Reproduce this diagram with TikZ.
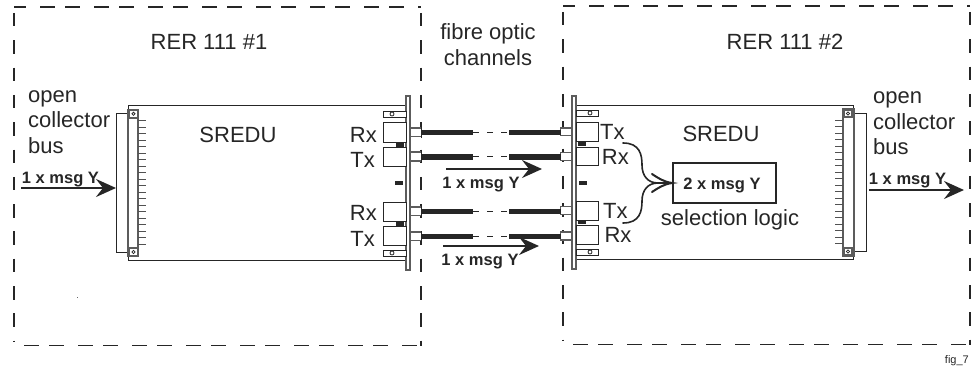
\documentclass[tikz,border=0pt]{standalone}
\usepackage{fontspec}
\setmainfont{Liberation Sans}
\usetikzlibrary{arrows.meta}
\definecolor{ink}{HTML}{262626}
\newcommand{\BoxN}[6][thinbox]{% style, name, x1,y1,x2,y2
  \pgfmathsetmacro{\cxv}{(#3+#5)/2}\pgfmathsetmacro{\cyv}{(#4+#6)/2}
  \pgfmathsetmacro{\wv}{abs(#5-#3)}\pgfmathsetmacro{\hv}{abs(#6-#4)}
  \node[#1,minimum width=\wv pt,minimum height=\hv pt] (#2) at (\cxv,\cyv) {};}
\tikzset{
  x=1pt,y=-1pt,
  thinbox/.style={draw=ink,line width=1pt,fill=white,inner sep=0pt,outer sep=0pt},
  platebox/.style={draw=ink!75,line width=1.2pt,fill=white,inner sep=0pt,outer sep=0pt},
  blk/.style={fill=ink,inner sep=0pt,outer sep=0pt},
  lbl/.style={text=ink,font=\fontsize{22}{24}\selectfont,inner sep=0pt,anchor=base},
  lblbold/.style={text=ink,font=\fontsize{16.5}{18}\selectfont\bfseries,inner sep=0pt,anchor=base},
  hdash/.style={draw=ink,line width=1.4pt,dash pattern=on 15pt off 10pt on 15pt off 14pt},
  vdash/.style={draw=ink,line width=1.4pt,dash pattern=on 13.5pt off 13.8pt},
  fibre/.style={draw=ink,line width=5.4pt},
  fibredash/.style={draw=ink,line width=1.2pt,dash pattern=on 6pt off 8pt},
  bigarrow/.style={draw=ink,line width=2.2pt,-{Stealth[length=20pt,width=18pt,inset=7pt]}},
  pin/.style={draw=ink!80,line width=1pt},
  sweep/.style={draw=ink,line width=1.6pt,line cap=round},
}
\begin{document}
\begin{tikzpicture}
\useasboundingbox (0,0) rectangle (976,369);
% dashed enclosures
\foreach \xa/\xb/\ya/\yb in {14/421/7/345.5, 563/970/6/344.5}{
  \pgfmathsetmacro{\xs}{\xa+10}
  \draw[hdash,dash phase=28pt] (\xa,\ya) -- (\xb,\ya);
  \draw[hdash] (\xs,\yb) -- (\xb,\yb);
  \draw[vdash,dash phase=-6pt] (\xa,\ya) -- (\xa,\yb-4);
  \draw[vdash] (\xb,\ya+6) -- (\xb,\yb);
}
% ---------- left card
\BoxN{cardL}{128}{105}{408}{260}
\BoxN{busL}{116}{113}{128}{252}
\BoxN[platebox]{stripL}{128}{110}{138}{256}
\BoxN[platebox]{mountLa}{129}{110}{138}{118}
\BoxN[platebox]{mountLb}{129}{248}{138}{256}
\foreach \y in {113.8,252}{\draw[ink,line width=0.8pt] (133.5,\y) circle (1.6);}
\foreach \i in {0,...,19}{\draw[pin] (138,120.7+\i*6.5) -- (146,120.7+\i*6.5);}
\BoxN[platebox]{plateL}{406}{96}{410}{270}
\BoxN{brkLa}{383}{111}{406}{117}
\BoxN{brkLb}{383}{250}{406}{256}
\foreach \y in {114,253}{\draw[ink,line width=0.8pt] (392,\y) circle (2);}
\BoxN{rxLa}{383}{122}{406}{142}
\BoxN{txLa}{383}{147}{406}{166}
\BoxN{rxLb}{383}{202}{406}{221}
\BoxN{txLb}{383}{226}{406}{245}
\BoxN[blk]{blkLa}{396}{142}{404}{147}
\BoxN[blk]{blkLb}{396}{221}{404}{225.5}
\BoxN[blk]{blkLc}{395}{181}{403}{185}
% ---------- right card
\BoxN{cardR}{574}{105}{853}{259.5}
\BoxN{busR}{854}{113}{866}{251}
\BoxN[platebox]{stripR}{843}{109}{854}{256}
\BoxN[platebox]{mountRa}{844}{110}{852}{117}
\BoxN[platebox]{mountRb}{844}{248}{852}{255}
\foreach \y in {113.5,251.5}{\draw[ink,line width=0.8pt] (848,\y) circle (1.6);}
\foreach \i in {0,...,19}{\draw[pin] (835,120+\i*6.5) -- (843,120+\i*6.5);}
\BoxN[platebox]{plateR}{572}{96}{576}{269}
\BoxN{brkRa}{576}{110}{598}{116}
\BoxN{brkRb}{576}{249}{598}{255.5}
\foreach \y in {113,252}{\draw[ink,line width=0.8pt] (590,\y) circle (2);}
\BoxN{txRa}{576}{122}{598.5}{141}
\BoxN{rxRa}{576}{147}{598.5}{165}
\BoxN{txRb}{576}{201}{598.5}{220}
\BoxN{rxRb}{576}{225}{598.5}{244}
\BoxN[blk]{blkRa}{577.5}{142}{586}{146}
\BoxN[blk]{blkRb}{577.5}{220}{586}{224}
\BoxN[blk]{blkRc}{579}{180.5}{587}{185}
% ---------- fibre stubs
\foreach \n/\ya/\yb in {a/128/136.5,b/152/161,c/207/215.5,d/232/240.5}{
  \BoxN[platebox]{stubL\n}{410}{\ya}{421.5}{\yb}
}
\foreach \n/\ya/\yb in {a/128/135.5,b/152.5/160.5,c/206.5/214.5,d/232/240}{
  \BoxN[platebox]{stubR\n}{560.5}{\ya}{572}{\yb}
}
\foreach \n/\y in {a/132.5,b/156.8,c/211.3,d/236.3}{
  \coordinate (fA\n) at (473,\y);
  \coordinate (fB\n) at (509,\y);
  \draw[fibre] (stubL\n.east |- fA\n) -- (fA\n);
  \draw[fibredash] (fA\n) -- (fB\n);
  \draw[fibre] (fB\n) -- (stubR\n.west |- fB\n);
  \draw[ink,line width=1.4pt] ([yshift=-5.5pt]stubL\n.east |- fA\n) -- ([yshift=5.5pt]stubL\n.east |- fA\n);
}
% ---------- selection logic
\node[draw=ink,line width=1.5pt,minimum width=103pt,minimum height=40pt,inner sep=0pt] (sel) at (724.5,183) {};
\node[lblbold] (selt) at (722,189) {2 x msg Y};
\coordinate (cvA) at (623,143);
\coordinate (cvB) at (623,223);
\draw[sweep] (cvA) .. controls (640,143) and (642,155) .. (642,165) .. controls (642,176) and (648,183) .. (658,183) -- (sel.west);
\draw[sweep] (cvB) .. controls (640,223) and (642,211) .. (642,201) .. controls (642,190) and (648,183) .. (658,183);
\coordinate (hdA) at (652,174);
\coordinate (hdB) at (652,192);
\draw[sweep,line width=2pt] (hdA) .. controls (658,178) and (664,182) .. (sel.west) .. controls (664,184) and (658,188) .. (hdB);
% ---------- big arrows
\coordinate (inL) at (21,188);
\draw[bigarrow] (inL) -- (busL.west |- inL);
\coordinate (outA) at (869,190);
\coordinate (outB) at (964,190);
\draw[bigarrow] (outA) -- (outB);
\coordinate (mAa) at (446,169);
\coordinate (mAb) at (542,169);
\draw[bigarrow] (mAa) -- (mAb);
\coordinate (mBa) at (443,246);
\coordinate (mBb) at (539,246);
\draw[bigarrow] (mBa) -- (mBb);
% ---------- labels
\node[lbl] (t1) at (209,50) {RER 111 \#1};
\node[lbl] (t2) at (785,49.3) {RER 111 \#2};
\node[lbl] (t3) at (488,39.3) {fibre optic};
\node[lbl] (t4) at (488,65) {channels};
\node[lbl] (s1) at (238,142) {SREDU};
\node[lbl] (s2) at (721,141.7) {SREDU};
\node[lbl] (s3) at (730,225) {selection logic};
\node[lbl,anchor=base west] (oL1) at (28,102) {open};
\node[lbl,anchor=base west] (oL2) at (28,127) {collector};
\node[lbl,anchor=base west] (oL3) at (28,153) {bus};
\node[lbl,anchor=base west] (oR1) at (873,103) {open};
\node[lbl,anchor=base west] (oR2) at (873,129) {collector};
\node[lbl,anchor=base west] (oR3) at (873,154) {bus};
\node[lbl,anchor=base east] (lb1) at (377,142.5) {Rx};
\node[lbl,anchor=base east] (lb2) at (375,167.5) {Tx};
\node[lbl,anchor=base east] (lb3) at (377,220.7) {Rx};
\node[lbl,anchor=base east] (lb4) at (375,246) {Tx};
\node[lbl,anchor=base west] (lb5) at (600,139) {Tx};
\node[lbl,anchor=base west] (lb6) at (601.7,164) {Rx};
\node[lbl,anchor=base west] (lb7) at (603,218.3) {Tx};
\node[lbl,anchor=base west] (lb8) at (604.3,242.7) {Rx};
\node[lblbold] (m1) at (60.5,183.5) {1 x msg Y};
\node[lblbold] (m2) at (907.5,184.3) {1 x msg Y};
\node[lblbold] (m3) at (481,188.3) {1 x msg Y};
\node[lblbold] (m4) at (480,265) {1 x msg Y};
\node[text=ink,font=\fontsize{11}{12}\selectfont,inner sep=0pt,anchor=base east] (fg) at (969,363) {fig\_7};
\fill[ink!70] (76.5,296.5) rectangle (77.7,297.7);
\end{tikzpicture}
\end{document}
